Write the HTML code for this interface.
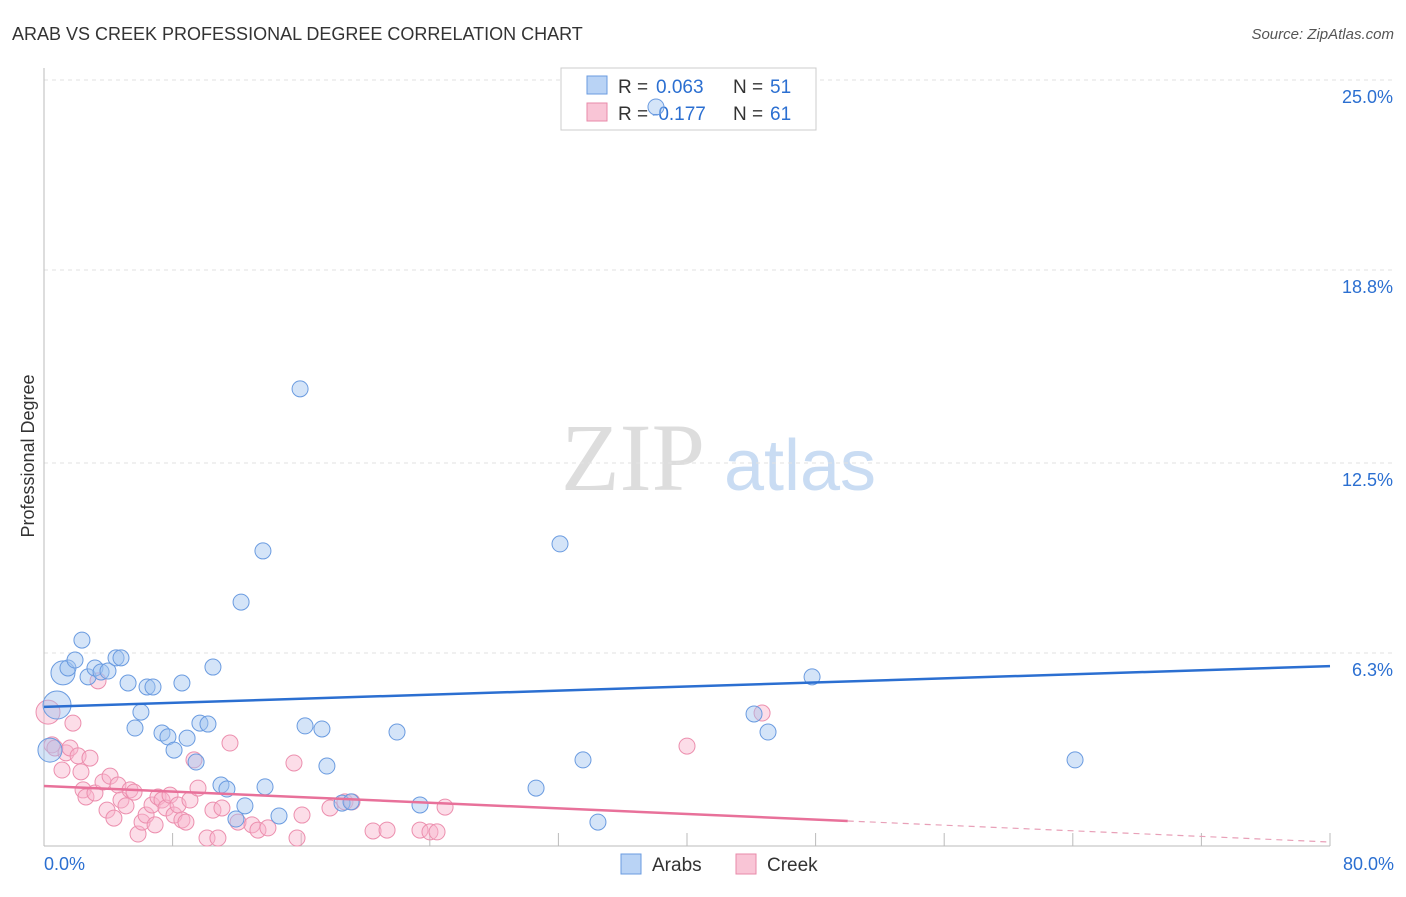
<!DOCTYPE html>
<html><head><meta charset="utf-8"><style>
body{margin:0;background:#fff;font-family:"Liberation Sans",sans-serif}
</style></head><body>
<svg id="c" width="1406" height="892" xmlns="http://www.w3.org/2000/svg">
<text x="12" y="40" font-size="18" fill="#333">ARAB VS CREEK PROFESSIONAL DEGREE CORRELATION CHART</text>
<text x="1394" y="39" font-size="15" fill="#555" font-style="italic" text-anchor="end">Source: ZipAtlas.com</text>
<text x="34" y="456" font-size="18" fill="#333" transform="rotate(-90 34 456)" text-anchor="middle">Professional Degree</text>
<text x="633" y="490" font-size="96" fill="#ddd" font-family="Liberation Serif,serif" text-anchor="middle">ZIP</text>
<text x="800" y="490" font-size="72" fill="#c9dcf3" text-anchor="middle">atlas</text>
<g id="grid"></g>
<g>
<rect x="561" y="68" width="255" height="62" fill="#fff" stroke="#ccc"/>
<rect x="587" y="76" width="20" height="18" fill="#b9d3f5" stroke="#6a9be0"/>
<rect x="587" y="103" width="20" height="18" fill="#f9c5d6" stroke="#e88aa9"/>
<text x="618" y="93" font-size="19" fill="#333">R =</text>
<text x="656" y="93" font-size="19" fill="#2b6fd1">0.063</text>
<text x="733" y="93" font-size="19" fill="#333">N =</text>
<text x="770" y="93" font-size="19" fill="#2b6fd1">51</text>
<text x="618" y="120" font-size="19" fill="#333">R =</text>
<text x="652" y="120" font-size="19" fill="#2b6fd1">-0.177</text>
<text x="733" y="120" font-size="19" fill="#333">N =</text>
<text x="770" y="120" font-size="19" fill="#2b6fd1">61</text>
</g>
<g id="pts"></g><g id="lines"></g>
<g>
<rect x="621" y="854" width="20" height="20" fill="#b9d3f5" stroke="#6a9be0"/>
<text x="652" y="871" font-size="19" fill="#333">Arabs</text>
<rect x="736" y="854" width="20" height="20" fill="#f9c5d6" stroke="#e88aa9"/>
<text x="767" y="871" font-size="19" fill="#333">Creek</text>
</g>
<text x="44" y="870" font-size="18" fill="#2b6fd1">0.0%</text>
<text x="1394" y="870" font-size="18" fill="#2b6fd1" text-anchor="end">80.0%</text>
</svg>
<script>
const yTicks=[25.0,18.8,12.5,6.3];
const yTickLabels=["25.0%","18.8%","12.5%","6.3%"];
const arabX=[0.81,1.18,1.49,1.93,2.36,2.74,3.17,3.55,3.98,4.48,4.79,5.23,5.66,6.03,6.41,6.78,7.34,7.71,8.09,8.58,8.90,9.46,9.70,10.20,10.51,11.01,11.38,11.94,12.26,12.50,13.62,13.75,14.62,15.93,16.24,17.29,17.60,18.54,19.10,21.96,23.39,30.61,32.10,33.53,34.46,38.07,44.17,45.04,47.78,64.14,0.37];
const arabY=[4.60,5.65,5.81,6.07,6.72,5.52,5.81,5.68,5.71,6.14,6.14,5.32,3.85,4.37,5.19,5.19,3.69,3.56,3.13,5.32,3.52,2.74,4.01,3.98,5.84,1.99,1.86,0.88,7.96,1.31,9.63,1.93,0.98,14.92,3.92,3.82,2.61,1.40,1.44,3.72,1.34,1.89,9.86,2.81,0.78,24.12,4.31,3.72,5.52,2.81,3.13];
const arabR=[14,12,8,8,8,8,8,8,8,8,8,8,8,8,8,8,8,8,8,8,8,8,8,8,8,8,8,8,8,8,8,8,8,8,8,8,8,8,8,8,8,8,8,8,8,8,8,8,8,8,12];
const creekX=[0.25,0.50,0.68,1.12,1.37,1.62,1.80,2.12,2.30,2.43,2.61,2.86,3.17,3.36,3.67,3.92,4.11,4.35,4.60,4.79,5.10,5.35,5.60,5.85,6.10,6.35,6.72,6.91,7.09,7.34,7.59,7.84,8.09,8.34,8.58,8.83,9.08,9.33,9.58,10.14,10.51,10.82,11.07,11.57,12.07,12.94,13.31,13.93,15.55,15.74,16.05,17.79,18.72,19.16,20.47,21.34,23.39,24.01,24.45,24.95,40.00,44.67];
const creekY=[4.37,3.30,3.20,2.48,3.04,3.20,4.01,2.94,2.42,1.83,1.60,2.87,1.73,5.39,2.09,1.17,2.28,0.91,1.99,1.50,1.31,1.83,1.76,0.39,0.78,1.01,1.34,0.69,1.60,1.50,1.24,1.66,1.01,1.34,0.85,0.78,1.50,2.81,1.89,0.26,1.17,0.26,1.24,3.36,0.78,0.69,0.52,0.59,2.71,0.26,1.01,1.24,1.44,1.44,0.49,0.52,0.52,0.46,0.46,1.27,3.26,4.34];
const arabTrend=[4.54,5.87];
const creekTrend=[1.96,0.13];
const X=v=>44+v*16.075, Y=v=>846-v*30.64;
const NS="http://www.w3.org/2000/svg";
function mk(p,t,a){const e=document.createElementNS(NS,t);for(const k in a)e.setAttribute(k,a[k]);p.appendChild(e);return e;}
const g=document.getElementById('grid');
yTicks.forEach((t,i)=>{
 const l=mk(g,'line',{x1:44,x2:1394,y1:Y(t),y2:Y(t),stroke:'#e2e2e2','stroke-dasharray':'4,4'});
 
 
 const tx=mk(g,'text',{x:1393,y:Y(t)+23,'font-size':18,fill:'#2b6fd1','text-anchor':'end'});
 tx.textContent=yTickLabels[i];
 
 
});
const ax=mk(g,'line',{x1:44,x2:44,y1:68,y2:846,stroke:'#bbb'});


const bx=mk(g,'line',{x1:44,x2:1330,y1:846,y2:846,stroke:'#bbb'});


for(let i=1;i<=10;i++){const t=mk(g,'line',{x1:X(i*8),x2:X(i*8),y1:833,y2:846,stroke:'#bbb'});
 
 }
const p=document.getElementById('pts');
creekX.forEach((v,i)=>{const c=mk(p,'circle',{cx:X(v),cy:Y(creekY[i]),r:i==0?12:8,fill:'rgba(249,180,205,0.45)',stroke:'#ec8fae','stroke-width':1});
 
 });
arabX.forEach((v,i)=>{const c=mk(p,'circle',{cx:X(v),cy:Y(arabY[i]),r:arabR[i],fill:'rgba(160,195,240,0.45)',stroke:'#6a9be0','stroke-width':1});
 
 });
const L=document.getElementById('lines');
const a=mk(L,'line',{x1:X(0),y1:Y(arabTrend[0]),x2:X(80),y2:Y(arabTrend[1]),stroke:'#2b6fd1','stroke-width':2.5});


const cy=x=>creekTrend[0]+(creekTrend[1]-creekTrend[0])*x/80;
const c1=mk(L,'line',{x1:X(0),y1:Y(cy(0)),x2:X(50),y2:Y(cy(50)),stroke:'#e8719a','stroke-width':2.5});


const c2=mk(L,'line',{x1:X(50),y1:Y(cy(50)),x2:X(80),y2:Y(cy(80)),stroke:'#e8a0b8','stroke-width':1.2,'stroke-dasharray':'6,5'});


</script>
</body></html>
